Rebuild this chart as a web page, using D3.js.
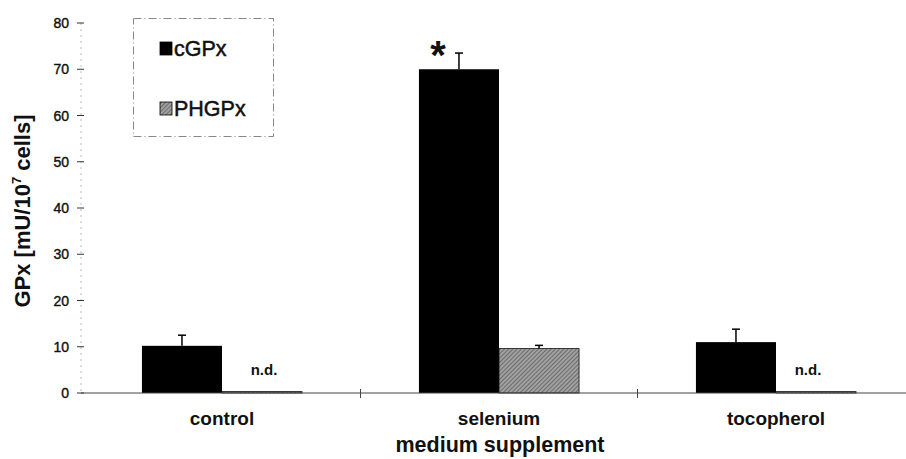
<!DOCTYPE html>
<html><head><meta charset="utf-8">
<script src="https://cdn.jsdelivr.net/npm/d3@7"></script>
<style>body{margin:0;background:#fff}svg{display:block}text{font-family:"Liberation Sans",Arial,sans-serif;fill:#111}</style>
</head><body><svg id="c" width="906" height="459"></svg>
<script>
const categories = ["control", "selenium", "tocopherol"];
const seriesNames = ["cGPx", "PHGPx"];
const cGPx = [10.2, 70.0, 11.0];
const cGPxErr = [2.3, 3.5, 2.8];
const PHGPx = [0.3, 9.6, 0.3];
const PHGPxErr = [null, 0.7, null];
const ndLabels = ["n.d.", null, "n.d."];
const starLabels = ["", "*", ""];
const yTicks = [0, 10, 20, 30, 40, 50, 60, 70, 80];

const svg = d3.select("#c");
const W = 906, H = 459;
const x = d3.scaleBand().domain(categories).range([83.5, 914.5]).padding(0);
const xs = d3.scaleBand().domain(seriesNames).range([0, x.bandwidth()]).paddingInner(0).paddingOuter(0.73);
const y = d3.scaleLinear().domain([0, 80]).range([393, 23]);

// pattern for PHGPx
const defs = svg.append("defs");
const pat = defs.append("pattern").attr("id","hatch").attr("patternUnits","userSpaceOnUse").attr("width",3).attr("height",3).attr("patternTransform","rotate(45)");
pat.append("rect").attr("width",3).attr("height",3).attr("fill","#a0a0a0");
pat.append("line").attr("x1",0).attr("y1",0).attr("x2",0).attr("y2",3).attr("stroke","#4a4a4a").attr("stroke-width",1.2);

// y axis
const yAxis = svg.append("g").attr("transform","translate(81,0)");
yAxis.append("line").attr("y1",y(80)).attr("y2",y(0)).attr("stroke","#bbb").attr("stroke-dasharray","2,4");
yAxis.selectAll("line.t").data(yTicks).enter().append("line").attr("class","t")
  .attr("x1",-4).attr("x2",3).attr("y1",d=>y(d)).attr("y2",d=>y(d)).attr("stroke","#333");
yAxis.selectAll("text").data(yTicks).enter().append("text")
  .attr("x",-12).attr("y",d=>y(d)).attr("dy","0.36em").attr("text-anchor","end")
  .attr("font-size",14).attr("stroke","#111").attr("stroke-width",0.4).text(d=>d);

// bars
const colors = {cGPx:"#000", PHGPx:"url(#hatch)"};
const vals = {cGPx, PHGPx};
const errs = {cGPx: cGPxErr, PHGPx: PHGPxErr};
seriesNames.forEach(s=>{
  svg.append("g").selectAll("rect").data(categories).enter().append("rect")
    .attr("x",c=>x(c)+xs(s)).attr("width",xs.bandwidth())
    .attr("y",(c,i)=>y(vals[s][i])).attr("height",(c,i)=>y(0)-y(vals[s][i]))
    .attr("fill",colors[s]).attr("stroke", s==="PHGPx" ? "#111" : "none").attr("stroke-width",0.8);
  const eg = svg.append("g").attr("stroke","#000").attr("stroke-width",1.5);
  categories.forEach((c,i)=>{
    const e = errs[s][i]; if(e==null) return;
    const cx = x(c)+xs(s)+xs.bandwidth()/2;
    eg.append("line").attr("x1",cx).attr("x2",cx).attr("y1",y(vals[s][i])).attr("y2",y(vals[s][i]+e));
    eg.append("line").attr("x1",cx-4).attr("x2",cx+4).attr("y1",y(vals[s][i]+e)).attr("y2",y(vals[s][i]+e));
  });
});

// x axis
const xg = svg.append("g");
xg.append("line").attr("x1",81).attr("x2",W).attr("y1",y(0)).attr("y2",y(0)).attr("stroke","#444").attr("stroke-width",1);
xg.selectAll("line.t").data(categories.slice(1)).enter().append("line").attr("class","t")
  .attr("x1",c=>x(c)).attr("x2",c=>x(c)).attr("y1",y(0)-4).attr("y2",y(0)+5).attr("stroke","#444");
xg.selectAll("text").data(categories).enter().append("text")
  .attr("x",c=>x(c)+x.bandwidth()/2).attr("y",425).attr("text-anchor","middle")
  .attr("font-size",19).attr("font-weight","bold").text(c=>c);

// n.d. labels
categories.forEach((c,i)=>{
  if(!ndLabels[i]) return;
  svg.append("text").attr("x",x(c)+xs("PHGPx")+xs.bandwidth()/2 - (i===0?-2:8)).attr("y",375).attr("text-anchor","middle")
    .attr("font-size",15).attr("font-weight","bold").text(ndLabels[i]);
});
// significance star
categories.forEach((c,i)=>{
  if(!starLabels[i]) return;
  svg.append("text").attr("x",x(c)+xs("cGPx")+19).attr("y",y(cGPx[i]+cGPxErr[i])+16).attr("text-anchor","middle")
    .attr("font-size",40).attr("font-weight","bold").text(starLabels[i]);
});

// axis titles
svg.append("text").attr("x",500).attr("y",452).attr("text-anchor","middle")
  .attr("font-size",21.5).attr("font-weight","bold").text("medium supplement");
const yt = svg.append("text").attr("transform","translate(30,211) rotate(-90)").attr("text-anchor","middle")
  .attr("font-size",22).attr("font-weight","bold");
yt.append("tspan").text("GPx [mU/10");
yt.append("tspan").attr("font-size",13).attr("dy",-9).text("7");
yt.append("tspan").attr("dy",9).text(" cells]");

// legend
const lg = svg.append("g");
lg.append("rect").attr("x",133.5).attr("y",18.5).attr("width",140).attr("height",118)
  .attr("fill","none").attr("stroke","#888").attr("stroke-dasharray","8,3,1,3");
const ly = [42, 102];
seriesNames.forEach((s,i)=>{
  lg.append("rect").attr("x",160).attr("y",ly[i]).attr("width",12).attr("height",13)
    .attr("fill",colors[s]).attr("stroke","#000").attr("stroke-width",0.8);
  lg.append("text").attr("x",174).attr("y",ly[i]+14).attr("font-size",21.5)
    .attr("stroke","#111").attr("stroke-width",0.5).text(s);
});
</script></body></html>
